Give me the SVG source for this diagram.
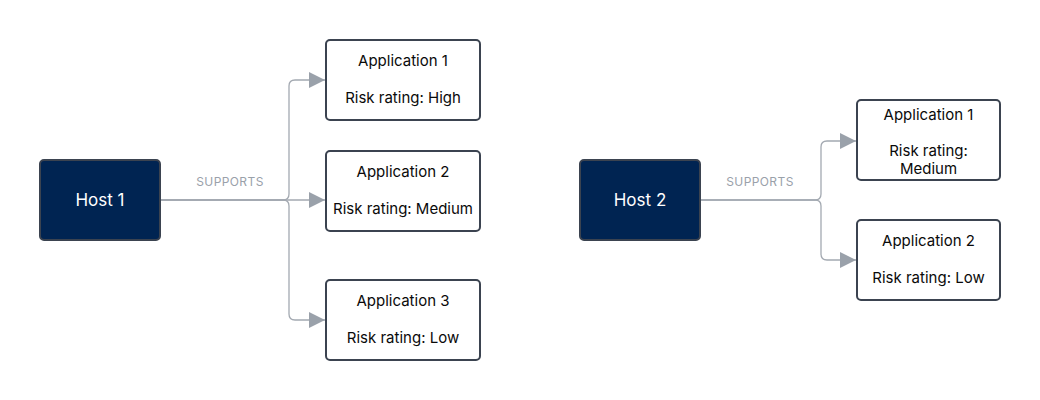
<svg xmlns="http://www.w3.org/2000/svg" width="1040" height="400" viewBox="0 0 1040 400">
<style>
.host rect{fill:#002452;stroke:#3b4350;stroke-width:2}
.host text{fill:#ffffff;font-family:Inter,"Noto Sans",sans-serif;font-size:17px;text-anchor:middle}
.app rect{fill:#ffffff;stroke:#3b4350;stroke-width:2}
.app text{fill:#0a0a0a;font-family:Inter,"Noto Sans",sans-serif;font-size:15px;text-anchor:middle}
.conn path{fill:none;stroke:#a3a9b1;stroke-width:1.3}
.lbl{fill:#9aa1aa;font-family:Inter,"Noto Sans",sans-serif;font-size:12px;text-anchor:middle;letter-spacing:0.4px}
</style>
<defs>
<marker id="arr" viewBox="0 0 10 10" refX="10" refY="5" markerWidth="16" markerHeight="16" markerUnits="userSpaceOnUse" orient="auto">
<path d="M0,0 L10,5 L0,10 Z" fill="#9aa1aa"/>
</marker>
</defs>
<rect width="1040" height="400" fill="#ffffff"/>
<g class="conn">
<path d="M160,200 H283 Q289,200 289,194 V86 Q289,80 295,80 H325" marker-end="url(#arr)"/>
<path d="M160,200 H325" marker-end="url(#arr)"/>
<path d="M160,200 H283 Q289,200 289,206 V314 Q289,320 295,320 H325" marker-end="url(#arr)"/>
<path d="M700,200 H815 Q821,200 821,194 V147 Q821,141 827,141 H856" marker-end="url(#arr)"/>
<path d="M700,200 H815 Q821,200 821,206 V254 Q821,260 827,260 H856" marker-end="url(#arr)"/>
</g>
<text class="lbl" x="230" y="186">SUPPORTS</text>
<text class="lbl" x="760" y="186">SUPPORTS</text>
<g id="host1" class="host"><rect x="40" y="160" width="120" height="80" rx="4"/><text x="100" y="206">Host 1</text></g>
<g id="host2" class="host"><rect x="580" y="160" width="120" height="80" rx="4"/><text x="640" y="206">Host 2</text></g>
<g id="h1app1" class="app"><rect x="326" y="40" width="154" height="80" rx="4"/><text x="403" y="66">Application 1</text><text x="403" y="103">Risk rating: High</text></g>
<g id="h1app2" class="app"><rect x="326" y="151" width="154" height="80" rx="4"/><text x="403" y="177">Application 2</text><text x="403" y="214">Risk rating: Medium</text></g>
<g id="h1app3" class="app"><rect x="326" y="280" width="154" height="80" rx="4"/><text x="403" y="306">Application 3</text><text x="403" y="343">Risk rating: Low</text></g>
<g id="h2app1" class="app"><rect x="857" y="100" width="143" height="80" rx="4"/><text x="928.5" y="120">Application 1</text><text x="928.5" y="156">Risk rating:</text><text x="928.5" y="174">Medium</text></g>
<g id="h2app2" class="app"><rect x="857" y="220" width="143" height="80" rx="4"/><text x="928.5" y="246">Application 2</text><text x="928.5" y="283">Risk rating: Low</text></g>
</svg>
